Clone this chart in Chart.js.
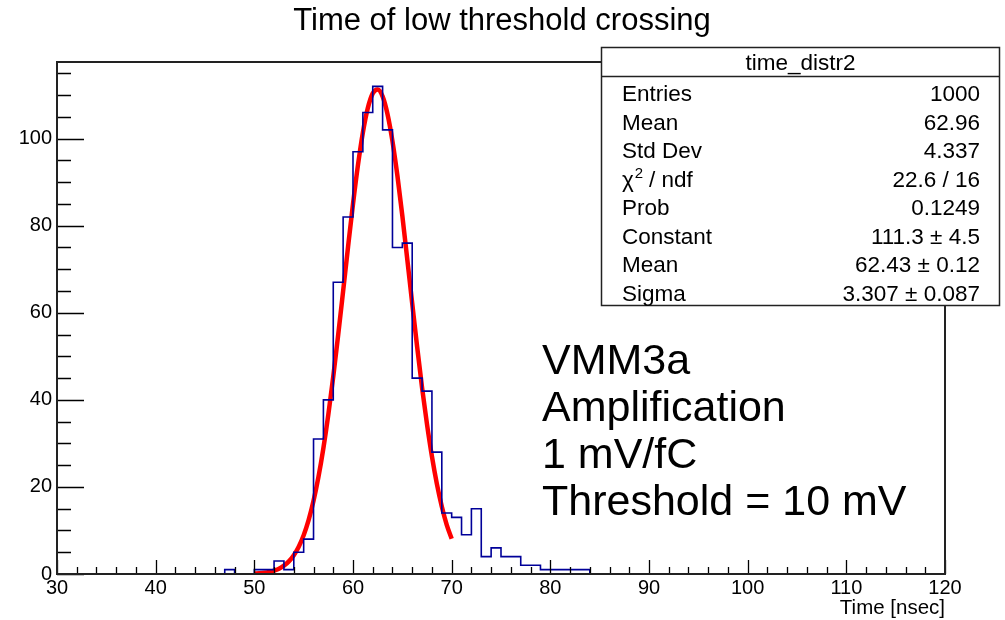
<!DOCTYPE html>
<html>
<head>
<meta charset="utf-8">
<script src="https://cdn.jsdelivr.net/npm/chart.js@4.4.0/dist/chart.umd.min.js"></script>
<style>
  html, body { margin: 0; padding: 0; background: #fff; }
</style>
</head>
<body>
<canvas id="histo" width="1005" height="620"></canvas>
<script>
// histogram: lower edge of each 1 ns bin and its entries
const binLow = [47, 48, 49, 50, 51, 52, 53, 54, 55, 56, 57, 58, 59, 60, 61, 62, 63, 64, 65,
                66, 67, 68, 69, 70, 71, 72, 73, 74, 75, 76, 77, 78, 79, 80, 81, 82, 83];
const counts = [1, 0, 0, 1, 1, 3, 1, 5, 8, 31, 40, 67, 82, 97, 106, 112, 102, 75, 76,
                45, 42, 28, 14, 13, 9, 15, 4, 6, 4, 4, 2, 2, 1, 1, 1, 1, 1];
const lastEdge = 84;

// red gaussian fit curve
const fitX = [50, 50.5, 51, 51.5, 52, 52.5, 53, 53.5, 54, 54.5, 55, 55.5, 56, 56.5, 57, 57.5,
              58, 58.5, 59, 59.5, 60, 60.5, 61, 61.5, 62, 62.5, 63, 63.5, 64, 64.5, 65, 65.5,
              66, 66.5, 67, 67.5, 68, 68.5, 69, 69.5, 70];
const fitY = [0.10, 0.17, 0.28, 0.47, 0.77, 1.23, 1.91, 2.90, 4.32, 6.28, 8.92, 12.39, 16.81,
              22.29, 28.92, 36.64, 45.38, 54.94, 64.99, 75.17, 84.97, 93.87, 101.4, 107.0,
              110.4, 111.3, 109.7, 105.6, 99.4, 91.5, 82.3, 72.3, 62.2, 52.2, 42.8, 34.4,
              27.0, 20.7, 15.5, 11.3, 8.1];

// axes
const xRange = [30, 120];
const yRange = [0, 117.6];
const xMajor = 10, xMinor = 2;
const yMajor = 20, yMinor = 5;

// stats box
const statsTitle = 'time_distr2';
const statsNames = ['Entries', 'Mean', 'Std Dev', 'chi2', 'Prob', 'Constant', 'Mean', 'Sigma'];
const statsValues = ['1000', '62.96', '4.337', '22.6 / 16', '0.1249', '111.3 \u00b1 4.5',
                     '62.43 \u00b1 0.12', '3.307 \u00b1 0.087'];

const titleText = 'Time of low threshold crossing';
const xTitle = 'Time [nsec]';
const noteLines = ['VMM3a', 'Amplification', '1 mV/fC', 'Threshold = 10 mV'];

const FONT = '"Liberation Sans", Arial, Helvetica, sans-serif';

const histPts = binLow.map((b, i) => ({ x: b, y: counts[i] }));
histPts.unshift({ x: binLow[0], y: 0 });
histPts.push({ x: lastEdge, y: 0 });

const fitPts = fitX.map((v, i) => ({ x: v, y: fitY[i] }));

// ROOT style frame, inward ticks, stats box and texts
const rootDecor = {
  id: 'rootDecor',
  afterDraw(chart) {
    const { ctx, chartArea: a, scales: { x, y } } = chart;
    ctx.save();
    ctx.strokeStyle = '#000';
    ctx.lineWidth = 1.3;
    ctx.beginPath();
    for (let v = xRange[0]; v <= xRange[1]; v += xMinor) {
      const px = Math.round(x.getPixelForValue(v)) + 0.5;
      const len = v % xMajor === 0 ? 14 : 7;
      ctx.moveTo(px, a.bottom);
      ctx.lineTo(px, a.bottom - len);
    }
    for (let v = 0; v < yRange[1]; v += yMinor) {
      const py = Math.round(y.getPixelForValue(v)) + 0.5;
      const len = v % yMajor === 0 ? 27 : 14;
      ctx.moveTo(a.left, py);
      ctx.lineTo(a.left + len, py);
    }
    ctx.stroke();

    ctx.lineWidth = 2;
    ctx.strokeStyle = '#222';
    ctx.strokeRect(a.left, a.top, a.right - a.left, a.bottom - a.top);

    // title
    ctx.fillStyle = '#000';
    ctx.font = '31px ' + FONT;
    ctx.textAlign = 'center';
    ctx.textBaseline = 'alphabetic';
    ctx.fillText(titleText, 502, 30);

    // axis title
    ctx.font = '20.5px ' + FONT;
    ctx.textAlign = 'right';
    ctx.fillText(xTitle, a.right, 614);

    // stats box
    const bx = 601.5, by = 47.5, bw = 398, bh = 258;
    ctx.fillStyle = '#fff';
    ctx.fillRect(bx, by, bw, bh);
    ctx.lineWidth = 1.5;
    ctx.strokeStyle = '#222';
    ctx.strokeRect(bx, by, bw, bh);
    ctx.beginPath();
    ctx.moveTo(bx, 76.5);
    ctx.lineTo(bx + bw, 76.5);
    ctx.stroke();

    ctx.fillStyle = '#000';
    ctx.font = '22.5px ' + FONT;
    ctx.textAlign = 'center';
    ctx.fillText(statsTitle, bx + bw / 2, 70);
    statsNames.forEach((name, i) => {
      const base = 101 + i * 28.5;
      ctx.textAlign = 'left';
      ctx.font = '22.5px ' + FONT;
      if (name === 'chi2') {
        ctx.fillText('\u03c7', 622, base);
        const w = ctx.measureText('\u03c7').width;
        ctx.font = '15px ' + FONT;
        ctx.fillText('2', 622 + w + 1, base - 9);
        ctx.font = '22.5px ' + FONT;
        ctx.fillText(' / ndf', 622 + w + 9, base);
      } else {
        ctx.fillText(name, 622, base);
      }
      ctx.textAlign = 'right';
      ctx.fillText(statsValues[i], 980, base);
    });

    // annotation
    ctx.font = '43px ' + FONT;
    ctx.textAlign = 'left';
    noteLines.forEach((t, i) => ctx.fillText(t, 542, 374 + i * 47));
    ctx.restore();
  }
};

new Chart(document.getElementById('histo').getContext('2d'), {
  type: 'line',
  data: {
    datasets: [
      {
        label: 'time_distr2',
        data: histPts,
        stepped: 'before',
        borderColor: '#000099',
        borderWidth: 1.6,
        pointRadius: 0,
        fill: false
      },
      {
        label: 'gaus',
        data: fitPts,
        borderColor: '#ff0000',
        borderWidth: 4.5,
        pointRadius: 0,
        cubicInterpolationMode: 'monotone',
        fill: false
      }
    ]
  },
  options: {
    responsive: false,
    animation: false,
    layout: { padding: { left: 0, right: 60, top: 62, bottom: 0 } },
    plugins: {
      legend: { display: false },
      tooltip: { enabled: false },
      title: { display: false }
    },
    scales: {
      x: {
        type: 'linear',
        min: xRange[0],
        max: xRange[1],
        ticks: { stepSize: xMajor, includeBounds: false, maxRotation: 0, padding: 2,
                 color: '#000', font: { family: FONT, size: 20 } },
        grid: { display: false, drawTicks: false },
        border: { display: false },
        afterFit: s => { s.height = 46; }
      },
      y: {
        min: yRange[0],
        max: yRange[1],
        ticks: { stepSize: yMajor, includeBounds: false, padding: 5,
                 color: '#000', font: { family: FONT, size: 20 } },
        grid: { display: false, drawTicks: false },
        border: { display: false },
        afterFit: s => { s.width = 57; }
      }
    }
  },
  plugins: [rootDecor]
});
</script>
</body>
</html>
